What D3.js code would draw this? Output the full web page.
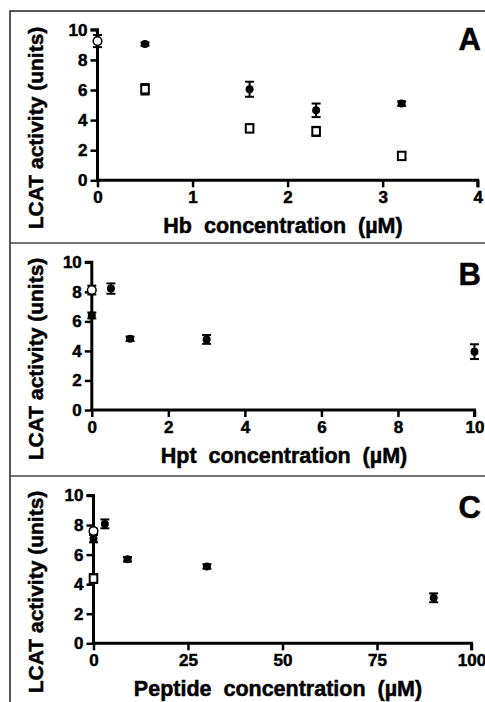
<!doctype html>
<html>
<head>
<meta charset="UTF-8" />
<script src="https://d3js.org/d3.v7.min.js"></script>
<style>
  body { margin: 0; background: #fff; }
  svg text { font-family: "Liberation Sans", Arial, sans-serif; font-weight: bold; fill: #000; stroke: #000; stroke-width: 0.5px; }
</style>
</head>
<body>
<svg id="chart" width="485" height="702"></svg>
<script>
// ---- data ----
// Panel A: haemoglobin
const hbX = [0.5, 1.6, 2.3, 3.2];
const hbFilled = [9.05, 6.05, 4.65, 5.1];
const hbFilledErr = [0.1, 0.5, 0.45, 0.15];
const hbSquare = [6.05, 3.45, 3.25, 1.62];
const hbSquareErr = [0.35, 0.25, 0.3, 0.25];
const hbControl = [9.25];
const hbControlErr = [0.4];

// Panel B: haptoglobin
const hptX = [0, 0.5, 1, 3, 10];
const hptFilled = [6.4, 8.22, 4.82, 4.78, 3.95];
const hptFilledErr = [0.2, 0.35, 0.15, 0.3, 0.5];
const hptControl = [8.12];
const hptControlErr = [0.3];

// Panel C: peptide
const pepX = [0, 3, 9, 30, 90];
const pepFilled = [7.08, 8.08, 5.68, 5.2, 3.08];
const pepFilledErr = [0.25, 0.3, 0.15, 0.15, 0.3];
const pepSquare = [4.38];
const pepSquareErr = [0.3];
const pepControl = [7.6];
const pepControlErr = [0.15];

const yTicks = [0, 2, 4, 6, 8, 10];
const yLabel = "LCAT activity (units)";

const panels = [
  { letter: "A", xlab: "Hb  concentration  (\u00b5M)", xmax: 4, xticks: [0, 1, 2, 3, 4],
    x0: 97.5, x1: 477.7, y0: 180.3, y1: 29.8, top: 11, letterY: 50, labY: 233, labX: 283,
    series: [
      { kind: "square", xs: hbX, ys: hbSquare, err: hbSquareErr },
      { kind: "filled", xs: hbX, ys: hbFilled, err: hbFilledErr },
      { kind: "open", xs: [0], ys: hbControl, err: hbControlErr }
    ] },
  { letter: "B", xlab: "Hpt  concentration  (\u00b5M)", xmax: 10, xticks: [0, 2, 4, 6, 8, 10],
    x0: 91.8, x1: 474.5, y0: 410, y1: 262.3, top: 243, letterY: 285, labY: 463, labX: 284,
    series: [
      { kind: "filled", xs: hptX, ys: hptFilled, err: hptFilledErr },
      { kind: "open", xs: [0], ys: hptControl, err: hptControlErr }
    ] },
  { letter: "C", xlab: "Peptide  concentration  (\u00b5M)", xmax: 100, xticks: [0, 25, 50, 75, 100],
    x0: 93.5, x1: 471.5, y0: 643.3, y1: 495.5, top: 476, letterY: 518, labY: 696, labX: 278,
    series: [
      { kind: "square", xs: [0], ys: pepSquare, err: pepSquareErr },
      { kind: "filled", xs: pepX, ys: pepFilled, err: pepFilledErr },
      { kind: "open", xs: [0], ys: pepControl, err: pepControlErr }
    ] }
];

const svg = d3.select("#chart");

// outer frame and separators
svg.append("path")
  .attr("d", "M10,702 V11 H485")
  .attr("fill", "none").attr("stroke", "#222").attr("stroke-width", 1.5);
[243, 476].forEach(function (y) {
  svg.append("line").attr("x1", 10).attr("x2", 485).attr("y1", y).attr("y2", y)
    .attr("stroke", "#444").attr("stroke-width", 1.5);
});

panels.forEach(function (p) {
  const x = d3.scaleLinear().domain([0, p.xmax]).range([p.x0, p.x1]);
  const y = d3.scaleLinear().domain([0, 10]).range([p.y0, p.y1]);
  const g = svg.append("g");

  // axes
  const xAxis = d3.axisBottom(x).tickValues(p.xticks).tickSize(7).tickPadding(4).tickFormat(d3.format("d"));
  const yAxis = d3.axisLeft(y).tickValues(yTicks).tickSize(7).tickPadding(3).tickFormat(d3.format("d"));

  const gx = g.append("g").attr("transform", "translate(0," + p.y0 + ")").call(xAxis);
  const gy = g.append("g").attr("transform", "translate(" + p.x0 + ",0)").call(yAxis);
  [gx, gy].forEach(function (a) {
    a.attr("font-size", 17).attr("font-family", "'Liberation Sans', Arial, sans-serif").attr("font-weight", "bold");
    a.select(".domain").attr("stroke", "#000").attr("stroke-width", 3);
    a.selectAll(".tick line").attr("stroke", "#000").attr("stroke-width", 2.5);
    a.selectAll(".tick text").attr("fill", "#000").attr("font-size", 17);
  });
  gx.select(".domain").attr("d", "M" + p.x0 + ",0H" + p.x1 + "V7");
  gy.select(".domain").attr("d", "M-7," + p.y1 + "H0V" + p.y0);

  // axis titles
  g.append("text")
    .attr("transform", "translate(" + 43 + "," + ((p.top + p.labY) / 2 + 6) + ") rotate(-90)")
    .attr("text-anchor", "middle")
    .attr("font-size", 21)
    .text(yLabel);
  g.append("text")
    .attr("x", p.labX)
    .attr("y", p.labY)
    .attr("text-anchor", "middle")
    .attr("font-size", 21.5)
    .attr("xml:space", "preserve")
    .style("white-space", "pre")
    .text(p.xlab);

  // panel letter
  g.append("text")
    .attr("x", 481).attr("y", p.letterY)
    .attr("text-anchor", "end")
    .attr("font-size", 31)
    .text(p.letter);

  // data: error bars then markers
  p.series.forEach(function (s) {
    const pts = s.xs.map(function (xv, i) { return { x: xv, y: s.ys[i], e: s.err[i] }; });
    const eb = g.append("g").attr("stroke", "#000").attr("stroke-width", 2);
    pts.forEach(function (d) {
      const cx = x(d.x), yt = y(d.y + d.e), yb = y(d.y - d.e);
      eb.append("line").attr("x1", cx).attr("x2", cx).attr("y1", yt).attr("y2", yb);
      eb.append("line").attr("x1", cx - 4.5).attr("x2", cx + 4.5).attr("y1", yt).attr("y2", yt);
      eb.append("line").attr("x1", cx - 4.5).attr("x2", cx + 4.5).attr("y1", yb).attr("y2", yb);
    });
    if (s.kind === "filled") {
      g.selectAll(null).data(pts).enter().append("circle")
        .attr("cx", function (d) { return x(d.x); })
        .attr("cy", function (d) { return y(d.y); })
        .attr("r", 4).attr("fill", "#000");
    } else if (s.kind === "open") {
      g.selectAll(null).data(pts).enter().append("circle")
        .attr("cx", function (d) { return x(d.x); })
        .attr("cy", function (d) { return y(d.y); })
        .attr("r", 4.3).attr("fill", "#fff").attr("stroke", "#000").attr("stroke-width", 1.5);
    } else {
      g.selectAll(null).data(pts).enter().append("rect")
        .attr("x", function (d) { return x(d.x) - 3.8; })
        .attr("y", function (d) { return y(d.y) - 4.2; })
        .attr("width", 7.6).attr("height", 8.4)
        .attr("fill", "#fff").attr("stroke", "#000").attr("stroke-width", 2);
    }
  });
});
</script>
</body>
</html>
